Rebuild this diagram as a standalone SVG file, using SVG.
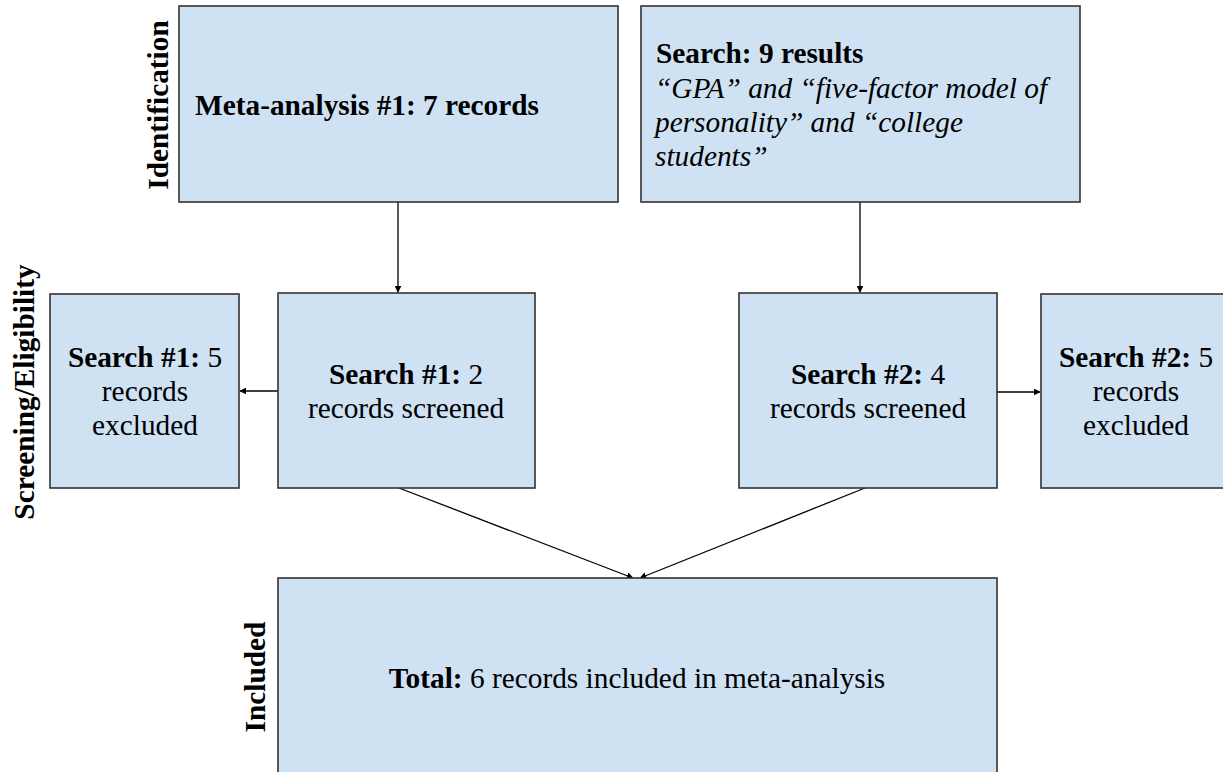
<svg xmlns="http://www.w3.org/2000/svg" width="1223" height="772" viewBox="0 0 1223 772">
<defs>
<style>
.box{fill:#cfe2f3;stroke:#333333;stroke-width:1.6}
.lbl{font-family:"Liberation Serif","Times New Roman",serif;font-size:29.33px;fill:#000}
.bold{font-weight:bold}
.ital{font-style:italic}
.mid{text-anchor:middle}
.lane{font-family:"Liberation Serif","Times New Roman",serif;font-size:29.33px;font-weight:bold;fill:#000;text-anchor:middle}
.edge{stroke:#000;stroke-width:1.3;fill:none;marker-end:url(#ah)}
</style>
<marker id="ah" viewBox="0 0 10 10" refX="9" refY="5" markerWidth="7" markerHeight="7" markerUnits="userSpaceOnUse" orient="auto">
<path d="M0,0 L10,5 L0,10 z" fill="#000"/>
</marker>
</defs>
<rect width="1223" height="772" fill="#ffffff"/>
<g id="lanes">
<text class="lane" transform="translate(168,105) rotate(-90)">Identification</text>
<text class="lane" transform="translate(34,392) rotate(-90)">Screening/Eligibility</text>
<text class="lane" transform="translate(265,677) rotate(-90)">Included</text>
</g>
<g id="connectors">
<line class="edge" x1="398" y1="202" x2="398" y2="292"/>
<line class="edge" x1="860" y1="202" x2="860" y2="292"/>
<line class="edge" x1="278" y1="391" x2="240" y2="391"/>
<line class="edge" x1="997" y1="392" x2="1040" y2="392"/>
<line class="edge" x1="399" y1="488" x2="633" y2="578"/>
<line class="edge" x1="865" y1="488" x2="640" y2="578"/>
</g>
<g id="meta1">
<rect class="box" x="179" y="6" width="439" height="196"/>
<text class="lbl bold" style="font-family:'Liberation Serif',serif" x="195" y="115">Meta-analysis #1: 7 records</text>
</g>
<g id="search">
<rect class="box" x="641" y="6" width="439" height="196"/>
<text class="lbl bold" style="font-family:'Liberation Serif',serif" x="656" y="63">Search: 9 results</text>
<text class="lbl ital" style="font-family:'Liberation Serif',serif" x="655" y="98">“GPA” and “five-factor model of</text>
<text class="lbl ital" style="font-family:'Liberation Serif',serif" x="655" y="132">personality” and “college</text>
<text class="lbl ital" style="font-family:'Liberation Serif',serif" x="655" y="166">students”</text>
</g>
<g id="excluded1">
<rect class="box" x="50" y="294" width="189" height="194"/>
<text class="lbl mid" style="font-family:'Liberation Serif',serif" x="145" y="367"><tspan class="bold">Search #1:</tspan> 5</text>
<text class="lbl mid" style="font-family:'Liberation Serif',serif" x="145" y="401">records</text>
<text class="lbl mid" style="font-family:'Liberation Serif',serif" x="145" y="435">excluded</text>
</g>
<g id="screened1">
<rect class="box" x="278" y="293" width="257" height="195"/>
<text class="lbl mid" style="font-family:'Liberation Serif',serif" x="406" y="384"><tspan class="bold">Search #1:</tspan> 2</text>
<text class="lbl mid" style="font-family:'Liberation Serif',serif" x="406" y="418">records screened</text>
</g>
<g id="screened2">
<rect class="box" x="739" y="293" width="258" height="195"/>
<text class="lbl mid" style="font-family:'Liberation Serif',serif" x="868" y="384"><tspan class="bold">Search #2:</tspan> 4</text>
<text class="lbl mid" style="font-family:'Liberation Serif',serif" x="868" y="418">records screened</text>
</g>
<g id="excluded2">
<rect class="box" x="1041" y="294" width="190" height="194"/>
<text class="lbl mid" style="font-family:'Liberation Serif',serif" x="1136" y="367"><tspan class="bold">Search #2:</tspan> 5</text>
<text class="lbl mid" style="font-family:'Liberation Serif',serif" x="1136" y="401">records</text>
<text class="lbl mid" style="font-family:'Liberation Serif',serif" x="1136" y="435">excluded</text>
</g>
<g id="total">
<rect class="box" x="278" y="578" width="719" height="200"/>
<text class="lbl mid" style="font-family:'Liberation Serif',serif" x="637" y="688"><tspan class="bold">Total:</tspan> 6 records included in meta-analysis</text>
</g>
</svg>
